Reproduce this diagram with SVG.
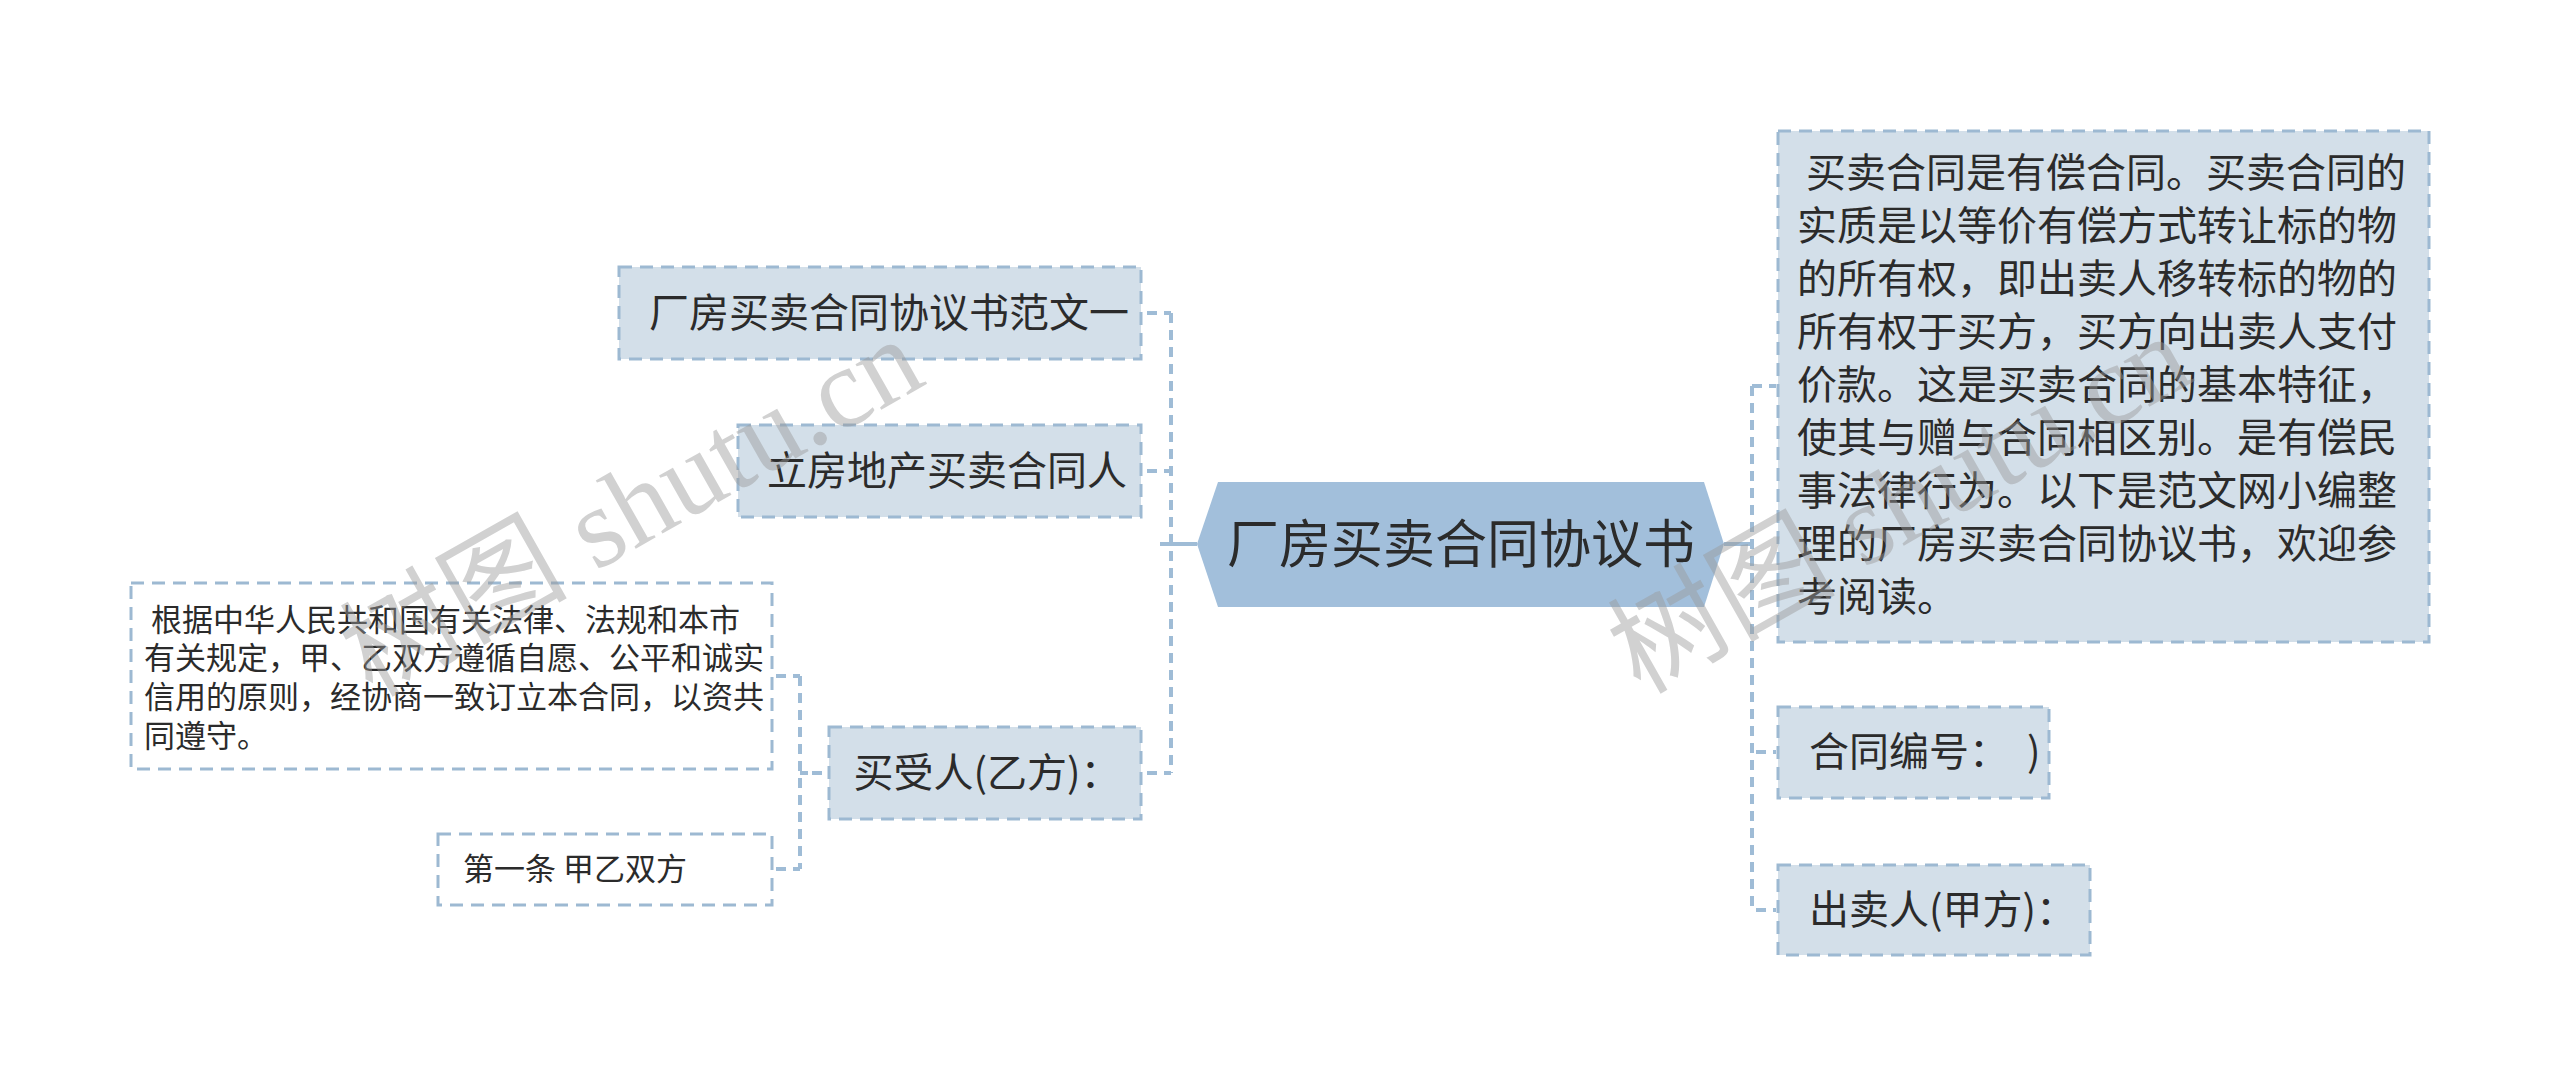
<svg xmlns="http://www.w3.org/2000/svg" width="2560" height="1087" viewBox="0 0 2560 1087">
<style>
.bg{fill:#ffffff}
.box{fill:#d3dfe9;stroke:#9db9d2;stroke-width:3;stroke-dasharray:13 8}
.wbox{fill:#ffffff;stroke:#9db9d2;stroke-width:3;stroke-dasharray:13 8}
.center{fill:#a2bfdb;stroke:none}
.t{font-family:"Noto Sans CJK SC","Noto Sans",sans-serif;fill:#2b2b2b}
.t40{font-size:40px}
.t31{font-size:31px}
.t52{font-size:52px}
.trunk{fill:none;stroke:#9fbcd6;stroke-width:4;stroke-dasharray:10 7}
.stub{fill:none;stroke:#9fbcd6;stroke-width:4;stroke-dasharray:10 7}
.solid{fill:none;stroke:#9fbcd6;stroke-width:4}
.wm{font-family:"Liberation Serif","Noto Sans CJK SC",serif;font-size:114px;fill:#9a9a9a;opacity:0.45}
</style>
<rect class="bg" x="0" y="0" width="2560" height="1087"/>

<g id="connectors">
  <line class="solid" x1="1160" y1="544" x2="1197" y2="544"/>
  <line class="trunk" x1="1171" y1="313" x2="1171" y2="773"/>
  <line class="stub" x1="1147" y1="313" x2="1171" y2="313"/>
  <line class="stub" x1="1147" y1="471" x2="1171" y2="471"/>
  <line class="stub" x1="1147" y1="773" x2="1171" y2="773"/>

  <line class="trunk" x1="800" y1="676" x2="800" y2="869"/>
  <line class="solid" x1="800" y1="773" x2="808" y2="773"/>
  <line class="stub" x1="812" y1="773" x2="829" y2="773"/>
  <line class="stub" x1="776" y1="676" x2="800" y2="676"/>
  <line class="stub" x1="776" y1="869" x2="800" y2="869"/>

  <line class="solid" x1="1724" y1="544" x2="1752" y2="544"/>
  <line class="trunk" x1="1752" y1="386" x2="1752" y2="910"/>
  <line class="stub" x1="1752" y1="386" x2="1776" y2="386"/>
  <line class="stub" x1="1756" y1="752" x2="1776" y2="752"/>
  <line class="stub" x1="1756" y1="910" x2="1776" y2="910"/>
</g>

<g id="node-center">
  <polygon class="center" points="1197,544 1218,482 1704,482 1724,544 1704,607 1218,607"/>
  <text class="t t52" x="1461" y="563" text-anchor="middle">厂房买卖合同协议书</text>
</g>

<g id="node-fanwen">
  <rect class="box" x="619" y="267" width="522" height="92"/>
  <text class="t t40" x="889" y="327" text-anchor="middle">厂房买卖合同协议书范文一</text>
</g>

<g id="node-lifang">
  <rect class="box" x="738" y="425" width="403" height="92"/>
  <text class="t t40" x="947" y="485" text-anchor="middle">立房地产买卖合同人</text>
</g>

<g id="node-maishou">
  <rect class="box" x="829" y="727" width="312" height="92"/>
  <text class="t t40" x="987" y="787" text-anchor="middle">买受人(乙方)：</text>
</g>

<g id="node-genju">
  <rect class="wbox" x="131" y="583" width="641" height="186"/>
  <text class="t t31" xml:space="preserve"><tspan x="144" y="631"> 根据中华人民共和国有关法律、法规和本市</tspan><tspan x="144" y="669">有关规定，甲、乙双方遵循自愿、公平和诚实</tspan><tspan x="144" y="708">信用的原则，经协商一致订立本合同，以资共</tspan><tspan x="144" y="747">同遵守。</tspan></text>
</g>

<g id="node-diyitiao">
  <rect class="wbox" x="438" y="834" width="334" height="71"/>
  <text class="t t31" x="463" y="880">第一条 甲乙双方</text>
</g>

<g id="node-intro">
  <rect class="box" x="1778" y="131" width="651" height="511"/>
  <text class="t t40" xml:space="preserve"><tspan x="1797" y="187"> 买卖合同是有偿合同。买卖合同的</tspan><tspan x="1797" y="240">实质是以等价有偿方式转让标的物</tspan><tspan x="1797" y="293">的所有权，即出卖人移转标的物的</tspan><tspan x="1797" y="346">所有权于买方，买方向出卖人支付</tspan><tspan x="1797" y="399">价款。这是买卖合同的基本特征，</tspan><tspan x="1797" y="452">使其与赠与合同相区别。是有偿民</tspan><tspan x="1797" y="505">事法律行为。以下是范文网小编整</tspan><tspan x="1797" y="558">理的厂房买卖合同协议书，欢迎参</tspan><tspan x="1797" y="611">考阅读。</tspan></text>
</g>

<g id="node-bianhao">
  <rect class="box" x="1778" y="707" width="271" height="91"/>
  <text class="t t40" x="1809" y="766" xml:space="preserve">合同编号：  )</text>
</g>

<g id="node-chumai">
  <rect class="box" x="1778" y="865" width="312" height="90"/>
  <text class="t t40" x="1809" y="924">出卖人(甲方)：</text>
</g>

<g id="watermark">
  <text class="wm" x="372" y="698" transform="rotate(-29.5 372 698)">树图 shutu.cn</text>
  <text class="wm" x="1640" y="695" transform="rotate(-29.5 1640 695)">树图 shutu.cn</text>
</g>
</svg>
